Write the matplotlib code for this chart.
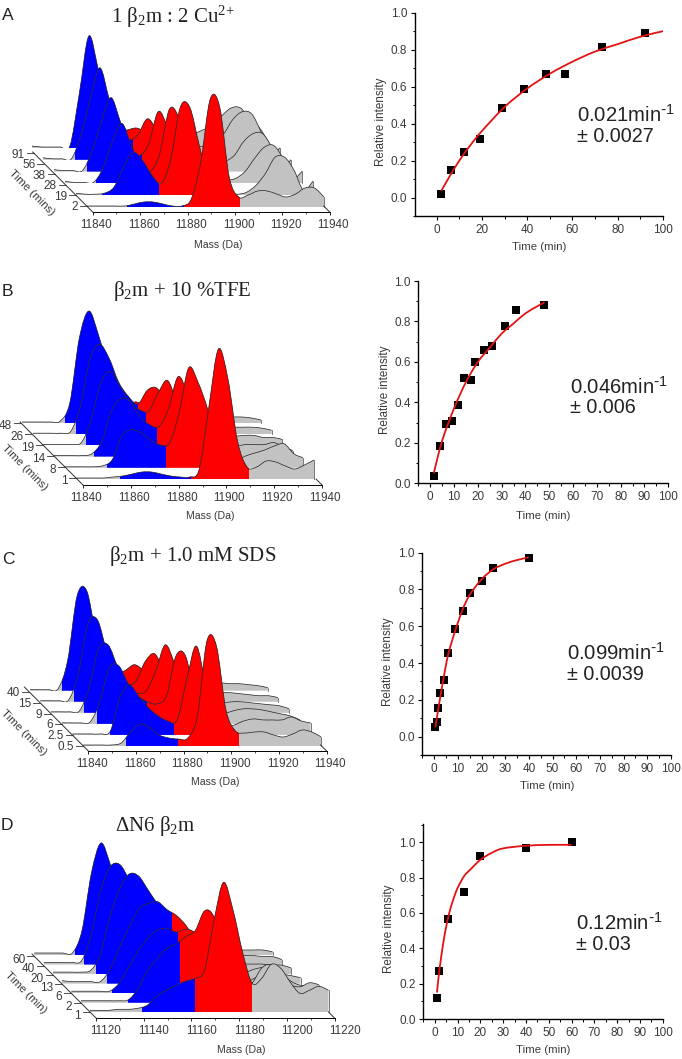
#!/usr/bin/env python3
import numpy as np
import matplotlib
matplotlib.use("Agg")
import matplotlib.pyplot as plt
from matplotlib.patches import PathPatch, Rectangle
from matplotlib.path import Path
from matplotlib.ticker import MultipleLocator
from matplotlib.transforms import Affine2D

plt.rcParams["font.family"] = ["Liberation Sans", "DejaVu Sans"]
plt.rcParams["mathtext.default"] = "regular"

W, H = 682, 1059
TEXT = "#3a3a3a"

# ---- spectra: peak heights on a 4 Da grid, front trace first ----
mass_a = np.arange(11840, 11941, 4)
times_a = ["2", "19", "28", "38", "56", "91"]
traces_a = [
    [1, 1, 1, 1, 1, 3, 5, 5, 3, 1, 1, 8, 45, 108, 100, 30, 10, 12, 16, 16, 13, 10, 13, 19, 19, 10],
    [2, 1, 1, 2, 8, 28, 43, 35, 20, 12, 36, 88, 88, 50, 15, 4, 2, 1, 3, 10, 22, 38, 38, 25, 5, 14],
    [2, 1, 1, 1, 15, 42, 60, 38, 18, 12, 30, 74, 66, 30, 10, 5, 3, 3, 5, 12, 25, 36, 38, 25, 5, 12],
    [2, 1, 1, 1, 20, 50, 74, 50, 24, 16, 28, 60, 44, 18, 8, 7, 7, 8, 10, 16, 30, 38, 38, 24, 5, 12],
    [2, 1, 1, 1, 25, 62, 92, 60, 30, 20, 25, 41, 30, 16, 12, 11, 12, 14, 18, 25, 40, 48, 46, 28, 6, 12],
    [2, 1, 1, 1, 2, 55, 112, 78, 35, 18, 18, 20, 16, 12, 10, 10, 12, 14, 18, 22, 32, 40, 40, 28, 20, 5],
]
blue_start_a = [11857, 11851, 11853, 11854, 11853.5, 11855]
red_start_a = [11881, 11875, 11876, 11877, 11878, 11880]
red_end_a = [11904.5, 11900, 11900, 11900, 11900, 11900]

mass_b = np.arange(11840, 11941, 4)
times_b = ["1", "8", "14", "19", "26", "48"]
traces_b = [
    [1, 1, 1, 1, 2, 3, 5, 7, 7, 5, 3, 2, 2, 10, 72, 130, 100, 38, 12, 12, 18, 17, 13, 10, 14, 19],
    [1, 1, 1, 1, 2, 8, 32, 38, 35, 28, 23, 25, 55, 100, 85, 58, 20, 6, 8, 12, 15, 18, 22, 24, 14, 10],
    [1, 1, 1, 1, 3, 15, 45, 58, 55, 40, 32, 30, 48, 80, 62, 30, 8, 5, 8, 10, 12, 12, 12, 14, 10, 6],
    [1, 1, 1, 1, 3, 25, 62, 74, 60, 42, 36, 34, 52, 65, 42, 18, 7, 6, 7, 8, 9, 10, 10, 8, 8, 6],
    [1, 1, 1, 1, 3, 28, 75, 90, 76, 52, 38, 30, 44, 46, 30, 15, 8, 6, 6, 6, 7, 7, 7, 7, 6, 4],
    [1, 1, 1, 1, 2, 20, 85, 112, 88, 55, 30, 20, 21, 16, 12, 8, 6, 5, 5, 5, 6, 6, 6, 6, 5, 3],
]
blue_start_b = [11859, 11858, 11857, 11858, 11858, 11858]
red_start_b = [11888.5, 11882.5, 11883, 11883, 11884, 11885]
red_end_b = [11913, 11908, 11908, 11908, 11908, 11908]

mass_c = np.arange(11840, 11941, 4)
times_c = ["0.5", "2.5", "6", "9", "15", "40"]
traces_c = [
    [1, 1, 1, 1, 3, 14, 22, 18, 11, 8, 7, 8, 30, 105, 100, 36, 15, 13, 14, 14, 11, 9, 12, 16, 14, 9],
    [1, 1, 1, 1, 4, 38, 50, 38, 27, 19, 14, 15, 55, 89, 50, 14, 8, 10, 14, 16, 15, 15, 15, 18, 14, 12],
    [1, 1, 1, 2, 22, 56, 58, 40, 28, 22, 20, 28, 68, 68, 28, 9, 8, 10, 13, 15, 15, 14, 12, 10, 8, 4],
    [1, 1, 1, 2, 25, 64, 68, 46, 28, 20, 22, 42, 68, 48, 16, 7, 7, 9, 10, 11, 11, 10, 9, 8, 7, 4],
    [1, 1, 1, 2, 28, 78, 82, 50, 28, 18, 20, 40, 48, 30, 14, 6, 6, 7, 8, 9, 9, 8, 7, 6, 6, 4],
    [1, 1, 1, 2, 30, 95, 100, 55, 28, 18, 20, 26, 20, 12, 8, 6, 7, 7, 7, 8, 8, 7, 7, 6, 5, 3],
]
blue_start_c = [11858, 11856, 11855, 11854, 11854, 11853.5]
red_start_c = [11880, 11882.7, 11876, 11876, 11877, 11879]
red_end_c = [11905.5, 11903, 11903, 11903, 11903, 11903]

mass_d = np.arange(11120, 11221, 4)
times_d = ["1", "2", "6", "13", "20", "40", "60"]
traces_d = [
    [2, 2, 2, 3, 3, 4, 7, 16, 22, 27, 31, 34, 42, 92, 130, 102, 60, 29, 34, 48, 44, 30, 19, 22, 26, 22],
    [2, 2, 2, 2, 2, 3, 14, 32, 44, 54, 59, 66, 72, 92, 85, 45, 22, 12, 20, 35, 38, 28, 18, 16, 20, 18],
    [2, 2, 2, 2, 2, 10, 26, 42, 55, 63, 65, 61, 64, 60, 46, 30, 15, 8, 10, 14, 20, 24, 20, 12, 8, 8],
    [3, 2, 2, 2, 2, 14, 36, 56, 74, 80, 82, 74, 68, 58, 42, 24, 12, 10, 8, 10, 14, 16, 14, 10, 8, 6],
    [2, 2, 2, 2, 4, 20, 58, 85, 100, 98, 84, 70, 58, 50, 36, 22, 12, 10, 9, 10, 10, 10, 10, 9, 9, 6],
    [2, 2, 2, 2, 4, 30, 74, 98, 100, 84, 62, 50, 42, 34, 22, 12, 8, 8, 8, 8, 8, 9, 9, 8, 8, 5],
    [2, 2, 2, 2, 2, 24, 82, 112, 90, 60, 42, 36, 30, 24, 14, 8, 8, 8, 5, 5, 5, 5, 5, 5, 5, 3],
]
blue_start_d = [11142, 11140, 11137, 11139, 11138, 11137, 11137]
red_start_d = [11164, 11161.6, 11164.6, 11166, 11168, 11168, 11168]
red_end_d = [11188, 11185, 11185, 11185, 11185, 11185, 11185]

time_a = [2, 6.5, 12, 19, 29, 38.5, 48.5, 56.5, 73, 92]
rel_a = [0.02, 0.15, 0.245, 0.315, 0.485, 0.585, 0.67, 0.67, 0.815, 0.89]
fit_t_a = [2, 5, 10, 15, 20, 30, 40, 50, 60, 70, 80, 90, 100]
fit_y_a = [0.035, 0.10, 0.20, 0.285, 0.36, 0.49, 0.59, 0.67, 0.735, 0.79, 0.83, 0.87, 0.90]

time_b = [1.5, 4, 6.5, 9, 11.5, 14, 17, 19, 22.5, 26, 31.5, 36, 48]
rel_b = [0.035, 0.185, 0.295, 0.31, 0.385, 0.52, 0.51, 0.6, 0.66, 0.68, 0.78, 0.855, 0.88]
fit_t_b = [1.5, 5, 10, 15, 20, 25, 30, 35, 40, 45, 48]
fit_y_b = [0.05, 0.21, 0.37, 0.50, 0.60, 0.67, 0.74, 0.79, 0.84, 0.875, 0.895]

time_c = [0.5, 1, 1.5, 2.5, 4, 6, 9, 12, 15, 20, 25, 40]
rel_c = [0.05, 0.08, 0.155, 0.235, 0.31, 0.455, 0.585, 0.685, 0.78, 0.845, 0.915, 0.97]
fit_t_c = [0.5, 1, 2, 4, 6, 9, 12, 15, 20, 25, 30, 35, 40]
fit_y_c = [0.05, 0.09, 0.17, 0.32, 0.45, 0.58, 0.69, 0.77, 0.855, 0.91, 0.94, 0.96, 0.975]

time_d = [1, 2, 6, 13, 20, 40, 60]
rel_d = [0.12, 0.27, 0.565, 0.72, 0.92, 0.97, 1.0]
fit_t_d = [1, 2, 4, 6, 8, 10, 13, 16, 20, 25, 30, 40, 50, 60]
fit_y_d = [0.15, 0.27, 0.45, 0.58, 0.67, 0.74, 0.81, 0.85, 0.90, 0.94, 0.965, 0.98, 0.985, 0.985]


def smooth_path(x, y, close=False):
    # bezier segments through the read points, so peaks don't look faceted
    x = np.asarray(x, float)
    y = np.asarray(y, float)
    pts = np.column_stack([x, y])
    verts = [pts[0]]
    codes = [Path.MOVETO]
    n = len(pts)
    for i in range(n - 1):
        p0 = pts[max(i - 1, 0)]
        p3 = pts[min(i + 2, n - 1)]
        verts += [pts[i] + (pts[i + 1] - p0) / 6, pts[i + 1] - (p3 - pts[i]) / 6, pts[i + 1]]
        codes += [Path.CURVE4] * 3
    if close:
        verts = [(x[0], 0)] + [(v[0], v[1]) for v in verts] + [(x[-1], 0), (x[0], 0)]
        codes = [Path.MOVETO, Path.LINETO] + codes[1:] + [Path.LINETO, Path.CLOSEPOLY]
    return Path(verts, codes)


def waterfall(mass, traces, blue_start, red_start, red_end, times, axis_x, scale, axis_y,
              first_x, step_x, first_base, step_y, tick_t0, tick_step, label_drop, label_shift, diag):
    span = mass[-1] - mass[0]
    ax = fig.add_axes([axis_x / W, (H - axis_y) / H, span * scale / W, 195 / H])
    ax.set_xlim(mass[0], mass[-1])
    ax.set_ylim(0, 195)
    ax.patch.set_visible(False)
    for side in ("top", "left", "right"):
        ax.spines[side].set_visible(False)
    ax.spines["bottom"].set_linewidth(0.7)
    ax.yaxis.set_visible(False)
    ax.xaxis.set_major_locator(MultipleLocator(20))
    ax.xaxis.set_minor_locator(MultipleLocator(10))
    ax.tick_params(axis="x", which="major", length=2.5, width=0.6, pad=2.5, labelsize=8.4, labelcolor=TEXT)
    ax.tick_params(axis="x", which="minor", length=1.5, width=0.5)
    ax.ticklabel_format(axis="x", useOffset=False, style="plain")
    # the tick labels sit a little right of their ticks in this figure
    fig.canvas.draw()
    for lab in ax.get_xticklabels():
        lab.set_transform(lab.get_transform() + Affine2D().translate(label_shift, 0))

    # back traces first
    for i in range(len(traces) - 1, -1, -1):
        shift = (first_x - step_x * i - axis_x) / scale
        base = axis_y - (first_base - step_y * i)
        heights = np.array(traces[i], float)
        x = mass + shift
        fill = smooth_path(x, heights, close=True).transformed(Affine2D().translate(0, base))
        regions = [
            (mass[0], mass[-1], "#c2c2c2"),
            (blue_start[i], red_start[i], "#0000ff"),
            (red_start[i], red_end[i], "#ff0000"),
        ]
        z = 10 + (len(traces) - i) * 3
        for m1, m2, colour in regions:
            patch = PathPatch(fill, facecolor=colour, edgecolor="none", zorder=z)
            ax.add_patch(patch)
            patch.set_clip_path(Rectangle((m1 + shift, base), m2 - m1, 190, transform=ax.transData))
        ln = PathPatch(smooth_path(x, heights + base), facecolor="none", edgecolor="#202020", lw=0.5, zorder=z + 1)
        ax.add_patch(ln)
        ln.set_clip_path(Rectangle((x[0], base), span, 190, transform=ax.transData))
        ax.plot([x[-1], x[-1]], [base, heights[-1] + base], color="#404040", lw=0.5, zorder=z + 1, clip_on=False)

    # time axis going into the page
    m0 = mass[0]
    ax.plot([m0, m0 - diag / scale], [0, diag], color="#303030", lw=0.7, clip_on=False, zorder=60)
    end = mass[-1]
    ax.plot([end, end - 6 / scale], [0, 6], color="#303030", lw=0.7, clip_on=False, zorder=60)
    for i, label_text in enumerate(times):
        t = tick_t0 + tick_step * i
        ax.plot([m0 - t / scale, m0 - (t + 7) / scale], [t, t], color="#303030", lw=0.6,
                clip_on=False, zorder=60)
        ax.text(m0 - (t + 9) / scale, t - label_drop, label_text, ha="right", va="center",
                fontsize=8.5, color=TEXT, clip_on=False, zorder=60)
    return ax


def kinetics(rect, xlim, ylim, xstep, xminor, t, rel, fit_t, fit_y):
    left, right, top, bottom = rect
    ax = fig.add_axes([left / W, (H - bottom) / H, (right - left) / W, (bottom - top) / H])
    for side in ("top", "right"):
        ax.spines[side].set_visible(False)
    for side in ("left", "bottom"):
        ax.spines[side].set_linewidth(1.0)
    ax.xaxis.set_major_locator(MultipleLocator(xstep))
    ax.xaxis.set_minor_locator(MultipleLocator(xminor))
    ax.yaxis.set_major_locator(MultipleLocator(0.2))
    ax.yaxis.set_minor_locator(MultipleLocator(0.1))
    ax.tick_params(which="major", length=3, width=0.8, pad=2.5, labelsize=8.5, labelcolor=TEXT)
    ax.tick_params(which="minor", length=1.8, width=0.7)
    ax.set_xlim(*xlim)
    ax.set_ylim(*ylim)
    ax.add_patch(PathPatch(smooth_path(fit_t, fit_y), facecolor="none", edgecolor="#e31212",
                           lw=1.3, zorder=4))
    ax.plot(t, rel, "s", color="black", ms=5.2, mew=0, zorder=3, clip_on=False)
    return ax


def label(x, y, s, **kw):
    kw.setdefault("ha", "center")
    kw.setdefault("va", "center")
    fig.text(x / W, 1 - y / H, s, **kw)


fig = plt.figure(figsize=(W / 100, H / 100), dpi=100)

waterfall(mass_a, traces_a, blue_start_a, red_start_a, red_end_a, times_a,
          92.7, 2.37, 212, 87, 11, 207, 11.8, 6, 10.6, 1.5, 3.7, 60)
waterfall(mass_b, traces_b, blue_start_b, red_start_b, red_end_b, times_b,
          83, 2.39, 485, 75, 10.6, 479, 11.2, 6.7, 11, 3, 3, 63)
waterfall(mass_c, traces_c, blue_start_c, red_start_c, red_end_c, times_c,
          88.3, 2.383, 751, 83, 10.7, 746, 11.06, 5, 10.8, 1, 3.7, 64)
waterfall(mass_d, traces_d, blue_start_d, red_start_d, red_end_d, times_d,
          96, 2.385, 1018, 90, 9.3, 1012.3, 9.55, 6, 9.3, 4, 10, 64)

kinetics((415, 663, 12.7, 216), (-9.6, 100), (-0.1, 1.0), 20, 10, time_a, rel_a, fit_t_a, fit_y_a)
kinetics((418.3, 668.3, 281, 483.3), (-5, 100), (0, 1.0), 10, 5, time_b, rel_b, fit_t_b, fit_y_b)
kinetics((422.3, 671, 552.7, 755), (-5, 100), (-0.1, 1.0), 10, 5, time_c, rel_c, fit_t_c, fit_y_c)
kinetics((423.3, 662.7, 824, 1019), (-5, 100), (0, 1.103), 10, 5, time_d, rel_d, fit_t_d, fit_y_d)

# panel letters and titles
for x, y, s in [(8, 16, "A"), (7, 291, "B"), (8, 559, "C"), (7, 826, "D")]:
    label(x, y, s, fontsize=12.5, color="#222222")
titles = [
    (173, 17, "1 β$_2$m : 2 Cu$^{2{+}}$"),
    (182, 291, "β$_2$m + 10 %TFE"),
    (193, 556, "β$_2$m + 1.0 mM SDS"),
    (155, 826, "ΔN6 β$_2$m"),
]
for x, y, s in titles:
    label(x, y, s, fontsize=15, family="Liberation Serif", color="#222222")

for x, y in [(218, 245), (210, 516), (215, 782), (241, 1050)]:
    label(x, y, "Mass (Da)", fontsize=7.6, color=TEXT)
for x, y, s in [(32, 193, "Time (mins)"), (25, 468, "Time (mins)"), (24, 733, "Time (mins)"), (26, 993, "Time (min)")]:
    label(x, y, s, fontsize=8.2, color=TEXT, rotation=-45, rotation_mode="anchor")

for x, y in [(381, 122), (385, 390), (388, 662), (389, 929)]:
    label(x, y, "Relative intensity", fontsize=8.4, color=TEXT, rotation=90)
for x, y in [(539, 247), (543, 516), (547, 786), (543, 1050)]:
    label(x, y, "Time (min)", fontsize=8.2, color=TEXT)

rates = [
    (577, 115, 137, "0.021min$^{\\text{-}1}$", "± 0.0027"),
    (570, 387, 408, "0.046min$^{\\text{-}1}$", "± 0.006"),
    (567, 653, 675, "0.099min$^{\\text{-}1}$", "± 0.0039"),
    (576, 923, 945, "0.12min$^{\\text{-}1}$", "± 0.03"),
]
for x, y1, y2, rate, err in rates:
    label(x, y1, rate, fontsize=14.6, color="#222222", ha="left")
    label(x, y2, err, fontsize=14.2, color="#222222", ha="left")

fig.savefig("out.png", dpi=100)
